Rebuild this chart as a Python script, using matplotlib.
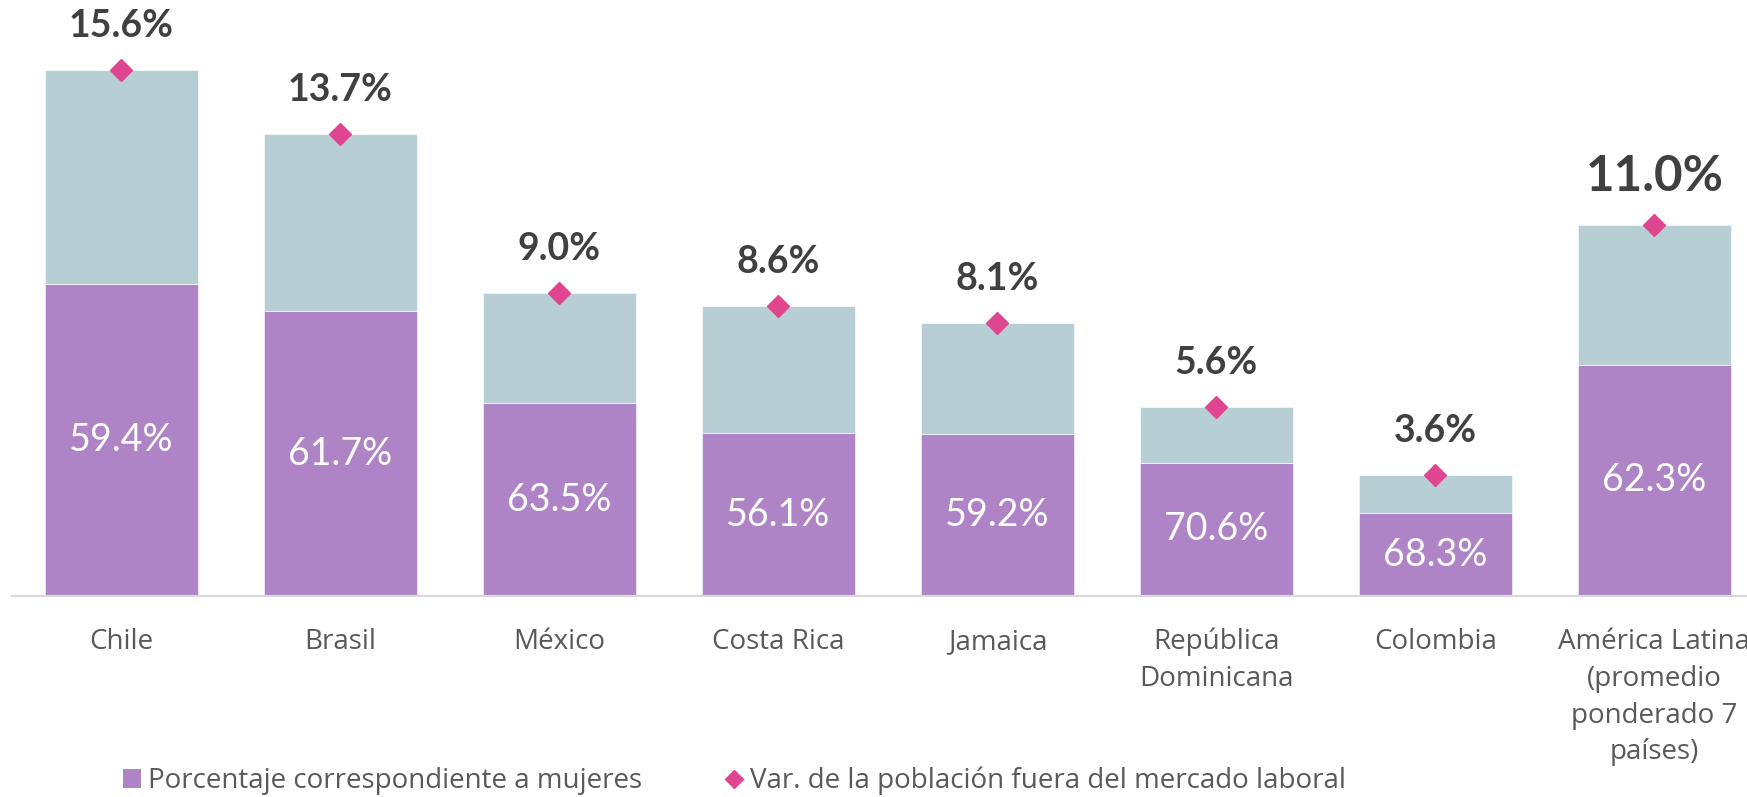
import matplotlib
matplotlib.use("Agg")
import matplotlib.pyplot as plt
from matplotlib.patches import Patch
from matplotlib.lines import Line2D

# Datos
paises = ["Chile", "Brasil", "México", "Costa Rica", "Jamaica",
          "República\nDominicana", "Colombia",
          "América Latina\n(promedio\nponderado 7\npaíses)"]
var_total = [15.6, 13.7, 9.0, 8.6, 8.1, 5.6, 3.6, 11.0]   # var. población fuera del mercado laboral (%)
pct_mujeres = [59.4, 61.7, 63.5, 56.1, 59.2, 70.6, 68.3, 62.3]  # % correspondiente a mujeres

morado = "#AE84C6"
gris_azul = "#B7CED4"
rosa = "#E04690"
texto_osc = "#404040"
texto_eje = "#595959"

plt.rcParams['font.family'] = ['Open Sans', 'DejaVu Sans']

fig = plt.figure(figsize=(17.47, 7.97), dpi=100)
ax = fig.add_axes([12 / 1747, 201 / 797, 1752 / 1747, 590 / 797])

x = list(range(len(paises)))
parte_mujeres = [t * p / 100 for t, p in zip(var_total, pct_mujeres)]
parte_resto = [t - m for t, m in zip(var_total, parte_mujeres)]

ax.bar(x, parte_mujeres, width=0.695, color=morado, edgecolor="white", linewidth=0.4)
ax.bar(x, parte_resto, bottom=parte_mujeres, width=0.695, color=gris_azul,
       edgecolor="white", linewidth=0.4)
ax.plot(x, var_total, linestyle="none", marker="D", markersize=11.5, color=rosa, zorder=5)

# Etiquetas
for i in x:
    ax.text(i, parte_mujeres[i] / 2, f"{pct_mujeres[i]:.1f}%", ha="center", va="center",
            color="white", fontsize=27, fontweight="normal", family=["Lato", "DejaVu Sans"])
    grande = i == len(paises) - 1
    ax.annotate(f"{var_total[i]:.1f}%", (i, var_total[i]),
                xytext=(0, 35 if grande else 31.5), textcoords="offset points",
                ha="center", va="center", color=texto_osc,
                fontsize=35.5 if grande else 27, fontweight="bold",
                family=["Lato", "DejaVu Sans"], annotation_clip=False)

ax.set_xlim(-0.5, 7.5)
ax.set_ylim(0, 17.5)
ax.set_yticks([])
ax.set_xticks(x, paises)
ax.tick_params(axis="x", length=0, pad=23, labelsize=20, labelcolor=texto_eje)
for lab in ax.get_xticklabels():
    lab.set_linespacing(1.42)
for s in ["top", "right", "left"]:
    ax.spines[s].set_visible(False)
ax.spines["bottom"].set_color("#D9D9D9")
ax.spines["bottom"].set_linewidth(1.6)

handles = [Patch(facecolor=morado, edgecolor="none"),
           Line2D([], [], linestyle="none", marker="D", markersize=9, color=rosa)]
fig.legend(handles, ["Porcentaje correspondiente a mujeres",
                     "Var. de la población fuera del mercado laboral"],
           loc="center left", bbox_to_anchor=(123 / 1747, 16 / 797), ncol=2,
           frameon=False, fontsize=20, labelcolor=texto_eje,
           handlelength=0.65, handleheight=0.65, handletextpad=0.25,
           columnspacing=3.0, borderpad=0, borderaxespad=0)

fig.savefig("out.png", dpi=100)
